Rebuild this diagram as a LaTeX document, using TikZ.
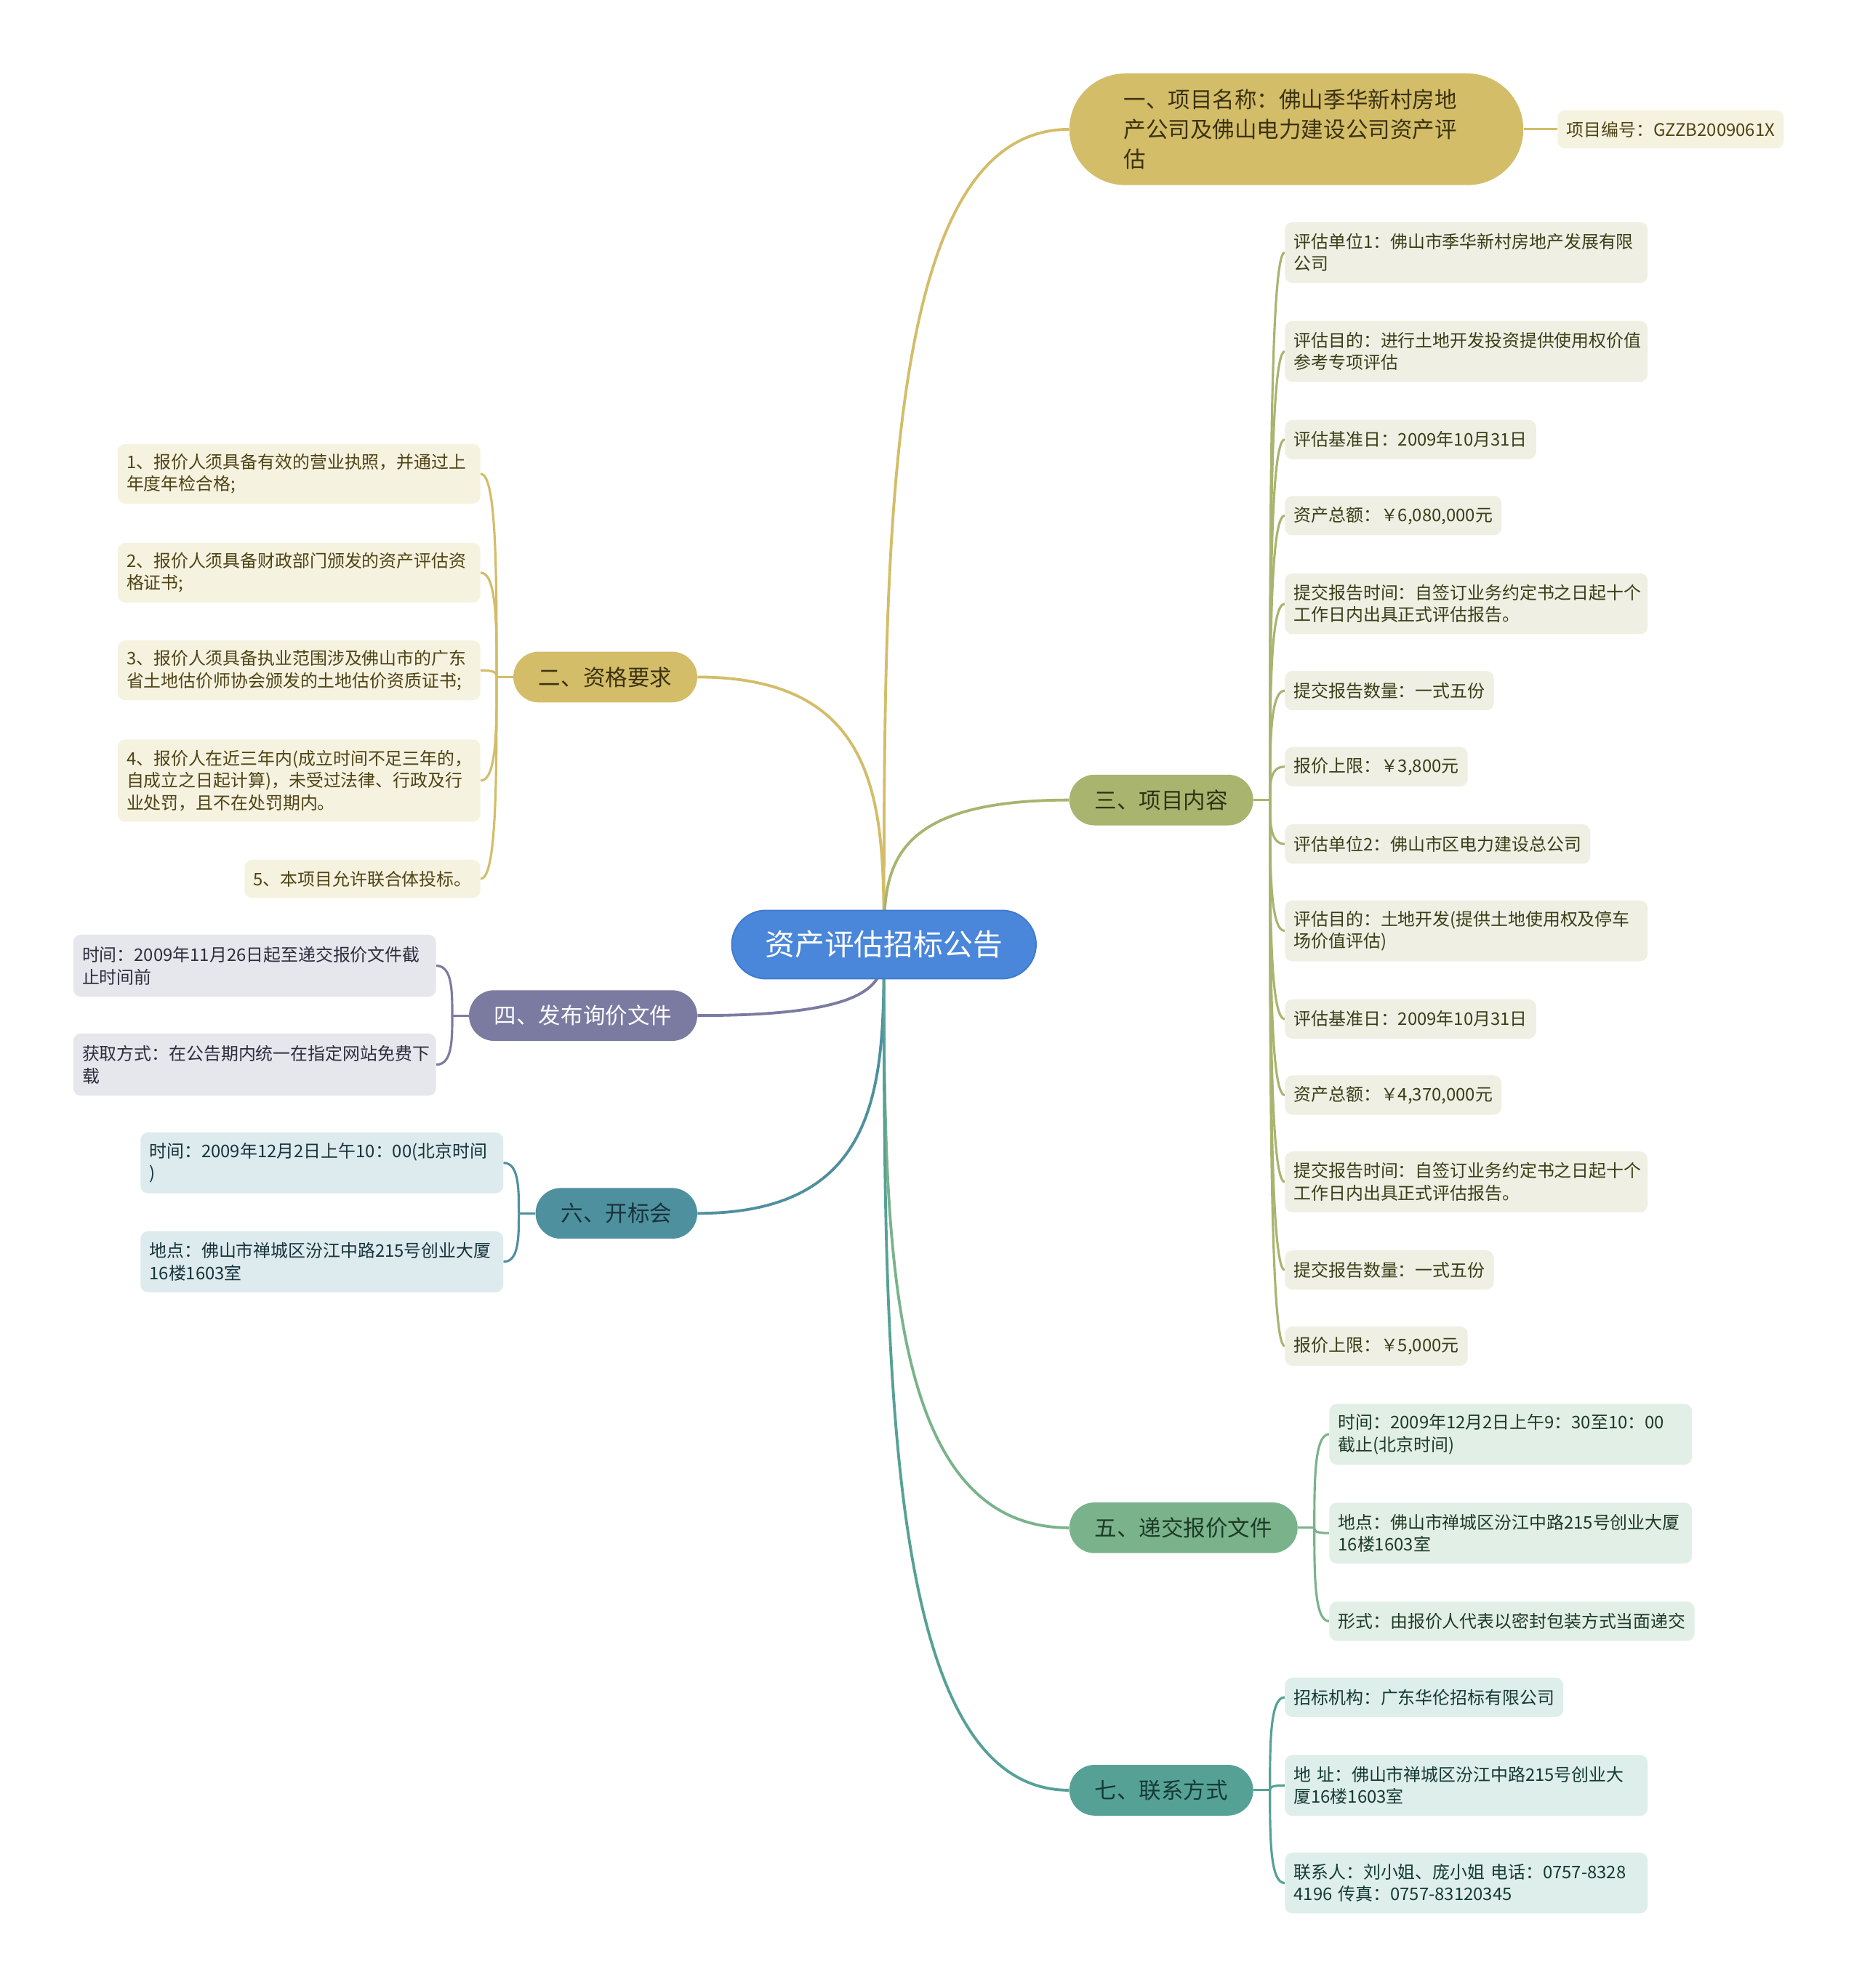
\documentclass[tikz,border=0pt]{standalone}
\usepackage{fontspec}
\newfontfamily\cjk{Noto Sans CJK SC}
\usetikzlibrary{calc,backgrounds}
\definecolor{cblue}{HTML}{4A86DA}
\definecolor{cblueb}{HTML}{3F79CC}
\definecolor{gold}{HTML}{D3BD69}
\definecolor{goldl}{HTML}{F6F2E0}
\definecolor{goldt}{HTML}{4F4415}
\definecolor{goldbt}{HTML}{3C3210}
\definecolor{olive}{HTML}{A9B46F}
\definecolor{olivel}{HTML}{EFEFE3}
\definecolor{olivet}{HTML}{3B3E18}
\definecolor{olivebt}{HTML}{2E3314}
\definecolor{purp}{HTML}{7B7BA2}
\definecolor{purpl}{HTML}{E6E6ED}
\definecolor{purpt}{HTML}{2E2E3E}
\definecolor{tealsix}{HTML}{4F909F}
\definecolor{tealsixl}{HTML}{DDEAEE}
\definecolor{tealsixt}{HTML}{17343B}
\definecolor{grnfive}{HTML}{7AB38B}
\definecolor{grnfivel}{HTML}{E2EFE6}
\definecolor{grnfivet}{HTML}{1D3A26}
\definecolor{tgseven}{HTML}{56A196}
\definecolor{tgsevenl}{HTML}{DEEEEB}
\definecolor{tgsevent}{HTML}{153A34}
\tikzset{
  leaf/.style={rounded corners=6pt, inner xsep=7pt, inner ysep=0pt, align=left,
    font=\cjk\fontsize{13.7}{17.5}\selectfont},
  wide/.style={text width=272pt},
  branch/.style={rounded corners=20pt, minimum height=40pt, inner xsep=20pt, inner ysep=0pt,
    font=\cjk\fontsize{17.5}{22}\selectfont},
  mainc/.style={line width=2.2pt},
  subc/.style={line width=1.8pt},
  mm/.style={to path={.. controls ($(\tikztostart)!0.5!(\tikztostart |- \tikztotarget)$) and (\tikztostart |- \tikztotarget) .. (\tikztotarget)}}
}
\begin{document}
\begin{tikzpicture}[x=1pt,y=-1pt]
\useasboundingbox (0,0) rectangle (1468,1568);

% center
\node[fill=cblue, draw=cblueb, line width=1pt, rounded corners=27pt, minimum width=240pt,
  minimum height=54pt, inner sep=0pt, text=white, font=\cjk\fontsize{23.4}{28}\selectfont]
  (c) at (697,745) {资产评估招标公告};

% branch 1
\node[fill=gold, rounded corners=44pt, minimum height=88pt, inner xsep=43pt, inner ysep=0pt,
  text width=272pt, align=left, text=goldbt, font=\cjk\fontsize{17.5}{23.5}\selectfont, anchor=west]
  (b1) at (843,102) {一、项目名称：佛山季华新村房地\\产公司及佛山电力建设公司资产评\\估};
\node[leaf, fill=goldl, text=goldt, minimum height=30pt, anchor=west] (l11) at (1228,102) {项目编号：GZZB2009061X};

% branch 2
\node[branch, fill=gold, text=goldbt, anchor=east] (b2) at (550,534) {二、资格要求};
\coordinate (j2) at ($(b2.west)+(-13,0)$);
\begin{scope}[every node/.style={leaf, fill=goldl, text=goldt, anchor=north east}]
\node[wide, minimum height=47pt] (l21) at (379,350) {1、报价人须具备有效的营业执照，并通过上\\年度年检合格;};
\node[wide, minimum height=47pt] (l22) at (379,428) {2、报价人须具备财政部门颁发的资产评估资\\格证书;};
\node[wide, minimum height=47pt] (l23) at (379,505) {3、报价人须具备执业范围涉及佛山市的广东\\省土地估价师协会颁发的土地估价资质证书;};
\node[wide, minimum height=65pt] (l24) at (379,583) {4、报价人在近三年内(成立时间不足三年的，\\自成立之日起计算)，未受过法律、行政及行\\业处罚，且不在处罚期内。};
\node[minimum height=30pt] (l25) at (379,678) {5、本项目允许联合体投标。};
\end{scope}

% branch 3
\node[branch, fill=olive, text=olivebt, anchor=west] (b3) at (843,631) {三、项目内容};
\coordinate (j3) at ($(b3.east)+(13,0)$);
\begin{scope}[every node/.style={leaf, fill=olivel, text=olivet, anchor=north west}]
\node[wide, minimum height=48pt] (l31) at (1013,175) {评估单位1：佛山市季华新村房地产发展有限\\公司};
\node[wide, minimum height=48pt] (l32) at (1013,253) {评估目的：进行土地开发投资提供使用权价值\\参考专项评估};
\node[minimum height=31pt] (l33) at (1013,331) {评估基准日：2009年10月31日};
\node[minimum height=31pt] (l34) at (1013,391) {资产总额：￥6,080,000元};
\node[wide, minimum height=48pt] (l35) at (1013,452) {提交报告时间：自签订业务约定书之日起十个\\工作日内出具正式评估报告。};
\node[minimum height=31pt] (l36) at (1013,529) {提交报告数量：一式五份};
\node[minimum height=31pt] (l37) at (1013,589) {报价上限：￥3,800元};
\node[minimum height=31pt] (l38) at (1013,650) {评估单位2：佛山市区电力建设总公司};
\node[wide, minimum height=48pt] (l39) at (1013,710) {评估目的：土地开发(提供土地使用权及停车\\场价值评估)};
\node[minimum height=31pt] (l310) at (1013,788) {评估基准日：2009年10月31日};
\node[minimum height=31pt] (l311) at (1013,848) {资产总额：￥4,370,000元};
\node[wide, minimum height=48pt] (l312) at (1013,908) {提交报告时间：自签订业务约定书之日起十个\\工作日内出具正式评估报告。};
\node[minimum height=31pt] (l313) at (1013,986) {提交报告数量：一式五份};
\node[minimum height=31pt] (l314) at (1013,1046) {报价上限：￥5,000元};
\end{scope}

% branch 4
\node[branch, fill=purp, text=white, anchor=east] (b4) at (550,801) {四、发布询价文件};
\coordinate (j4) at ($(b4.west)+(-13,0)$);
\begin{scope}[every node/.style={leaf, fill=purpl, text=purpt, anchor=north east}]
\node[wide, minimum height=49pt] (l41) at (344,737) {时间：2009年11月26日起至递交报价文件截\\止时间前};
\node[wide, minimum height=49pt] (l42) at (344,815) {获取方式：在公告期内统一在指定网站免费下\\载};
\end{scope}

% branch 6
\node[branch, fill=tealsix, text=tealsixt, anchor=east] (b6) at (550,957) {六、开标会};
\coordinate (j6) at ($(b6.west)+(-13,0)$);
\begin{scope}[every node/.style={leaf, fill=tealsixl, text=tealsixt, anchor=north east}]
\node[wide, minimum height=48pt] (l61) at (397,893) {时间：2009年12月2日上午10：00(北京时间\\)};
\node[wide, minimum height=48pt] (l62) at (397,971) {地点：佛山市禅城区汾江中路215号创业大厦\\16楼1603室};
\end{scope}

% branch 5
\node[branch, fill=grnfive, text=grnfivet, anchor=west] (b5) at (843,1205) {五、递交报价文件};
\coordinate (j5) at ($(b5.east)+(13,0)$);
\begin{scope}[every node/.style={leaf, fill=grnfivel, text=grnfivet, anchor=north west}]
\node[wide, minimum height=48pt] (l51) at (1048,1107) {时间：2009年12月2日上午9：30至10：00\\截止(北京时间)};
\node[wide, minimum height=48pt] (l52) at (1048,1185) {地点：佛山市禅城区汾江中路215号创业大厦\\16楼1603室};
\node[minimum height=31pt] (l53) at (1048,1263) {形式：由报价人代表以密封包装方式当面递交};
\end{scope}

% branch 7
\node[branch, fill=tgseven, text=tgsevent, anchor=west] (b7) at (843,1412) {七、联系方式};
\coordinate (j7) at ($(b7.east)+(13,0)$);
\begin{scope}[every node/.style={leaf, fill=tgsevenl, text=tgsevent, anchor=north west}]
\node[minimum height=31pt] (l71) at (1013,1323) {招标机构：广东华伦招标有限公司};
\node[wide, minimum height=48pt] (l72) at (1013,1384) {地 址：佛山市禅城区汾江中路215号创业大\\厦16楼1603室};
\node[wide, minimum height=48pt] (l73) at (1013,1461) {联系人：刘小姐、庞小姐 电话：0757-8328\\4196 传真：0757-83120345};
\end{scope}

\begin{pgfonlayer}{background}
\fill[white] (0,0) rectangle (1468,1568);
% main connectors
\draw[mainc, draw=gold] (c.center) to[mm] (b1.west);
\draw[mainc, draw=gold] (c.center) to[mm] (b2.east);
\draw[mainc, draw=olive] (c.center) to[mm] (b3.west);
\draw[mainc, draw=purp] (c.center) to[mm] (b4.east);
\draw[mainc, draw=tealsix] (c.center) to[mm] (b6.east);
\draw[mainc, draw=grnfive] (c.center) to[mm] (b5.west);
\draw[mainc, draw=tgseven] (c.center) to[mm] (b7.west);
% sub connectors
\draw[subc, draw=gold] (b1.east) -- (l11.west);
\draw[subc, draw=gold] (b2.west) -- (j2);
\foreach \n in {l21,l22,l23,l24,l25} \draw[subc, draw=gold] (j2) to[mm] (\n.east);
\draw[subc, draw=olive] (b3.east) -- (j3);
\foreach \n in {l31,l32,l33,l34,l35,l36,l37,l38,l39,l310,l311,l312,l313,l314} \draw[subc, draw=olive] (j3) to[mm] (\n.west);
\draw[subc, draw=purp] (b4.west) -- (j4);
\foreach \n in {l41,l42} \draw[subc, draw=purp] (j4) to[mm] (\n.east);
\draw[subc, draw=tealsix] (b6.west) -- (j6);
\foreach \n in {l61,l62} \draw[subc, draw=tealsix] (j6) to[mm] (\n.east);
\draw[subc, draw=grnfive] (b5.east) -- (j5);
\foreach \n in {l51,l52,l53} \draw[subc, draw=grnfive] (j5) to[mm] (\n.west);
\draw[subc, draw=tgseven] (b7.east) -- (j7);
\foreach \n in {l71,l72,l73} \draw[subc, draw=tgseven] (j7) to[mm] (\n.west);
\end{pgfonlayer}
\end{tikzpicture}
\end{document}
